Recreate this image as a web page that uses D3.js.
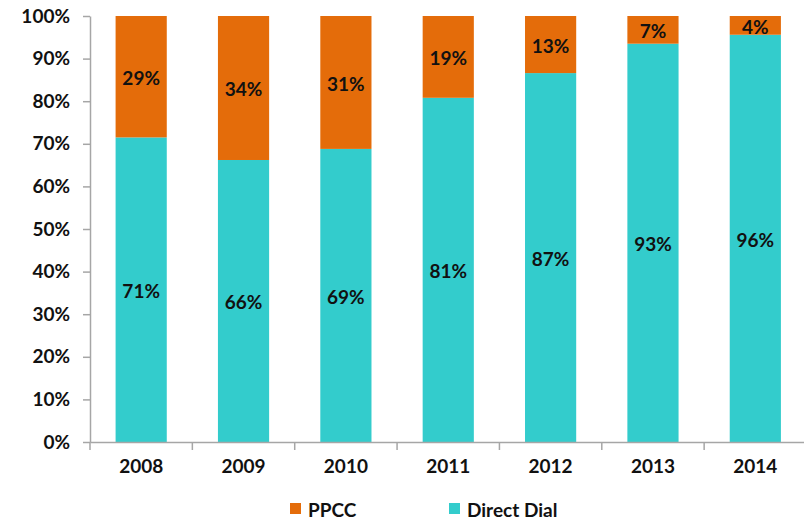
<!DOCTYPE html>
<html><head><meta charset="utf-8">
<script src="https://cdn.jsdelivr.net/npm/d3@7"></script>
<style>body{margin:0;background:#fff;} text{font-family:Lato,"Open Sans",sans-serif;font-weight:bold;fill:#111;}</style>
</head><body>
<svg id="c" width="804" height="520"></svg>
<script>
const years = ["2008","2009","2010","2011","2012","2013","2014"];
const directDial = [71.5, 66.2, 68.8, 80.8, 86.6, 93.5, 95.6];
const ppcc = [28.5, 33.8, 31.2, 19.2, 13.4, 6.5, 4.4];
const directLabels = ["71%","66%","69%","81%","87%","93%","96%"];
const ppccLabels = ["29%","34%","31%","19%","13%","7%","4%"];
const yTicks = [0,10,20,30,40,50,60,70,80,90,100];
const seriesNames = ["PPCC","Direct Dial"];
const colors = {"PPCC":"#E46C0A","Direct Dial":"#33CCCC"};

(function(){
const svg = d3.select("#c");
const mLeft = 90, mRight = 806.5, mTop = 16, mBottom = 442;
const fs = "19px";
const x = d3.scaleBand().domain(years).range([mLeft, mRight]).paddingInner(0.5).paddingOuter(0.25);
const xb = d3.scaleBand().domain(years).range([mLeft, mRight]);
const y = d3.scaleLinear().domain([0,100]).range([mBottom, mTop]);

const g = svg.append("g");
years.forEach((yr,i)=>{
  g.append("rect").attr("x", x(yr)).attr("width", x.bandwidth())
    .attr("y", y(directDial[i])).attr("height", y(0)-y(directDial[i]))
    .attr("fill", colors["Direct Dial"]);
  g.append("rect").attr("x", x(yr)).attr("width", x.bandwidth())
    .attr("y", y(directDial[i]+ppcc[i])).attr("height", y(directDial[i])-y(directDial[i]+ppcc[i]))
    .attr("fill", colors["PPCC"]);
  g.append("text").attr("x", x(yr)+x.bandwidth()/2).attr("y", (y(0)+y(directDial[i]))/2+1)
    .attr("text-anchor","middle").attr("dominant-baseline","central").style("font-size",fs)
    .text(directLabels[i]);
  g.append("text").attr("x", x(yr)+x.bandwidth()/2).attr("y", (y(directDial[i])+y(directDial[i]+ppcc[i]))/2+1)
    .attr("text-anchor","middle").attr("dominant-baseline","central").style("font-size",fs)
    .text(ppccLabels[i]);
});

const ya = svg.append("g").attr("transform",`translate(${mLeft},0)`)
  .call(d3.axisLeft(y).tickValues(yTicks).tickFormat(d=>d+"%").tickSize(7).tickSizeOuter(0).tickPadding(13));
ya.select(".domain").attr("stroke","#a6a6a6").attr("stroke-width",1.5);
ya.selectAll(".tick line").attr("stroke","#a6a6a6").attr("stroke-width",1.5);
ya.selectAll("text").style("font-size",fs).attr("fill","#111");

const xa = svg.append("g").attr("transform",`translate(0,${mBottom})`)
  .call(d3.axisBottom(xb).tickSize(0).tickPadding(18));
xa.select(".domain").attr("stroke","#a6a6a6").attr("stroke-width",1.5);
xa.selectAll("text").style("font-size",fs).attr("fill","#111");
const bounds = years.map(d=>xb(d)).concat([xb(years[years.length-1])+xb.bandwidth()]);
svg.append("g").selectAll("line").data(bounds).join("line")
  .attr("x1",d=>d).attr("x2",d=>d).attr("y1",mBottom).attr("y2",mBottom+8)
  .attr("stroke","#a6a6a6").attr("stroke-width",1.5);

const legX = [290, 449];
seriesNames.forEach((s,i)=>{
  svg.append("rect").attr("x",legX[i]).attr("y",503).attr("width",11).attr("height",11).attr("fill",colors[s]);
  svg.append("text").attr("x",legX[i]+18).attr("y",509).attr("dominant-baseline","central")
    .style("font-size",fs).text(s);
});
})();
</script>
</body></html>
